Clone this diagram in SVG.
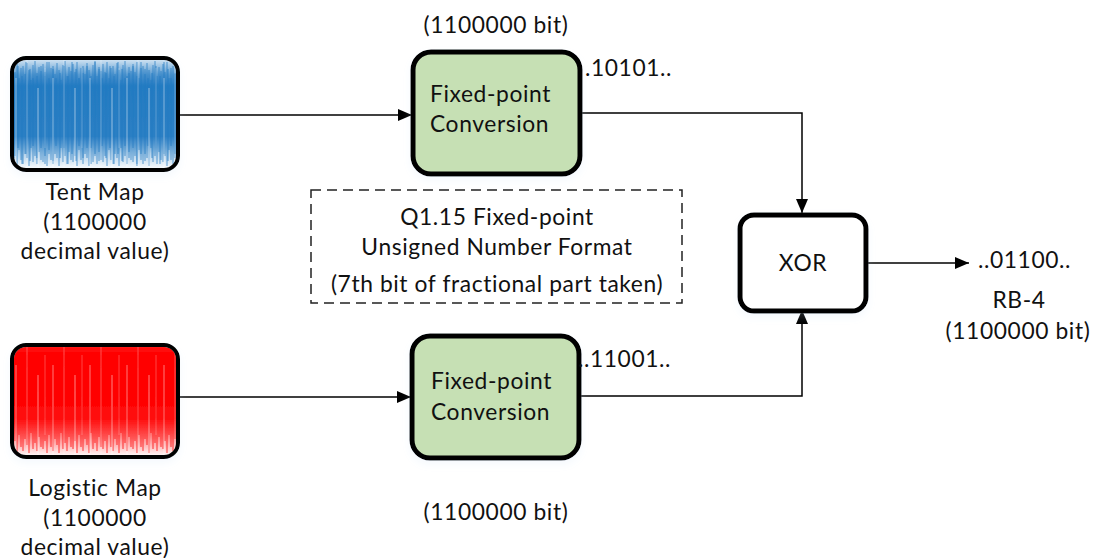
<svg xmlns="http://www.w3.org/2000/svg" width="1093" height="558" viewBox="0 0 1093 558">
<style>
text{font-family:Lato,"Open Sans","Liberation Sans",sans-serif;font-size:22.8px;fill:#111;letter-spacing:0.6px}
.c{text-anchor:middle}
.box{fill:#c6e0b4;stroke:#000;stroke-width:5}
.xor{fill:#fff;stroke:#000;stroke-width:5}
.frame{fill:none;stroke:#000;stroke-width:4}
.conn{fill:none;stroke:#000;stroke-width:1.5}
.dash{fill:none;stroke:#222;stroke-width:1.5;stroke-dasharray:10 6}
.bl line{stroke:#1f78c1;stroke-width:1.3;stroke-opacity:0.55}
.rd line{stroke:#ff0000;stroke-width:1.3;stroke-opacity:0.6}
.wh line{stroke:#fff;stroke-width:1}
</style>
<defs>
<marker id="ah" viewBox="0 0 14 12" refX="14" refY="6" markerWidth="14" markerHeight="12" markerUnits="userSpaceOnUse" orient="auto">
<path d="M0,0 L14,6 L0,12 Z" fill="#000"/>
</marker>
<filter id="sh" x="-20%" y="-20%" width="140%" height="150%">
<feGaussianBlur in="SourceAlpha" stdDeviation="4"/>
<feOffset dx="0" dy="4"/>
<feComponentTransfer><feFuncA type="linear" slope="0.18"/></feComponentTransfer>
<feColorMatrix type="matrix" values="0 0 0 0 0.55  0 0 0 0 0.7  0 0 0 0 0.9  0 0 0 1 0"/>
<feMerge><feMergeNode/><feMergeNode in="SourceGraphic"/></feMerge>
</filter>
<pattern id="pb" patternUnits="userSpaceOnUse" width="30" height="112" class="bl">
<line x1="1" y1="6" x2="1" y2="104"/><line x1="3" y1="14" x2="3" y2="98"/>
<line x1="5" y1="4" x2="5" y2="108"/><line x1="7" y1="20" x2="7" y2="92"/>
<line x1="9" y1="10" x2="9" y2="102"/><line x1="11" y1="8" x2="11" y2="106"/>
<line x1="13" y1="16" x2="13" y2="96"/><line x1="15" y1="5" x2="15" y2="100"/>
<line x1="17" y1="12" x2="17" y2="108"/><line x1="19" y1="22" x2="19" y2="90"/>
<line x1="21" y1="7" x2="21" y2="104"/><line x1="23" y1="3" x2="23" y2="98"/>
<line x1="25" y1="18" x2="25" y2="106"/><line x1="27" y1="9" x2="27" y2="94"/>
<line x1="29" y1="13" x2="29" y2="102"/>
</pattern>
<pattern id="pb2" patternUnits="userSpaceOnUse" width="23" height="112" class="bl">
<line x1="2" y1="15" x2="2" y2="100"/><line x1="6" y1="8" x2="6" y2="90"/>
<line x1="10" y1="18" x2="10" y2="106"/><line x1="14" y1="4" x2="14" y2="96"/>
<line x1="18" y1="11" x2="18" y2="103"/><line x1="21" y1="20" x2="21" y2="88"/>
</pattern>
<pattern id="pw" patternUnits="userSpaceOnUse" width="37" height="112" class="wh">
<line x1="4" y1="20" x2="4" y2="112" stroke-opacity="0.45"/>
<line x1="15" y1="0" x2="15" y2="112" stroke-opacity="0.3"/>
<line x1="26" y1="30" x2="26" y2="112" stroke-opacity="0.5"/>
<line x1="33" y1="10" x2="33" y2="90" stroke-opacity="0.25"/>
</pattern>
<pattern id="pr" patternUnits="userSpaceOnUse" width="30" height="112" class="rd">
<line x1="1" y1="3" x2="1" y2="104"/><line x1="3" y1="3" x2="3" y2="96"/>
<line x1="5" y1="3" x2="5" y2="108"/><line x1="7" y1="3" x2="7" y2="90"/>
<line x1="9" y1="3" x2="9" y2="102"/><line x1="11" y1="3" x2="11" y2="106"/>
<line x1="13" y1="3" x2="13" y2="94"/><line x1="15" y1="3" x2="15" y2="100"/>
<line x1="17" y1="3" x2="17" y2="108"/><line x1="19" y1="3" x2="19" y2="88"/>
<line x1="21" y1="3" x2="21" y2="104"/><line x1="23" y1="3" x2="23" y2="98"/>
<line x1="25" y1="3" x2="25" y2="106"/><line x1="27" y1="3" x2="27" y2="92"/>
<line x1="29" y1="3" x2="29" y2="102"/>
</pattern>
<linearGradient id="gb" x1="0" y1="0" x2="0" y2="1">
<stop offset="0" stop-color="#1f78c1" stop-opacity="0.15"/>
<stop offset="0.15" stop-color="#1f78c1" stop-opacity="0.75"/>
<stop offset="0.25" stop-color="#1a75bf" stop-opacity="0.95"/>
<stop offset="0.7" stop-color="#1a75bf" stop-opacity="0.9"/>
<stop offset="0.85" stop-color="#1f78c1" stop-opacity="0.35"/>
<stop offset="1" stop-color="#1f78c1" stop-opacity="0"/>
</linearGradient>
<linearGradient id="gr" x1="0" y1="0" x2="0" y2="1">
<stop offset="0" stop-color="#ff0000" stop-opacity="0.9"/>
<stop offset="0.1" stop-color="#ff0000" stop-opacity="1"/>
<stop offset="0.65" stop-color="#ff0000" stop-opacity="0.95"/>
<stop offset="0.85" stop-color="#ff0000" stop-opacity="0.4"/>
<stop offset="1" stop-color="#ff0000" stop-opacity="0"/>
</linearGradient>
<clipPath id="cl"><rect x="2" y="2" width="162" height="108" rx="12"/></clipPath>
</defs>

<g id="connectors">
<line class="conn" x1="178" y1="115" x2="412" y2="115" marker-end="url(#ah)"/>
<polyline class="conn" points="580,113 802,113 802,213" marker-end="url(#ah)"/>
<line class="conn" x1="178" y1="397" x2="411" y2="397" marker-end="url(#ah)"/>
<polyline class="conn" points="579,396 802,396 802,310" marker-end="url(#ah)"/>
<line class="conn" x1="866" y1="263" x2="969" y2="263" marker-end="url(#ah)"/>
</g>

<g id="tent-map">
<g transform="translate(12,58)" filter="url(#sh)">
<rect x="0" y="0" width="166" height="112" rx="14" fill="#fff"/>
<g clip-path="url(#cl)">
<rect x="0" y="0" width="166" height="112" fill="url(#gb)"/>
<rect x="0" y="0" width="166" height="112" fill="url(#pb)"/>
<rect x="0" y="0" width="166" height="112" fill="url(#pb2)"/>
<rect x="0" y="0" width="166" height="112" fill="url(#pw)"/>
</g>
<rect class="frame" x="0" y="0" width="166" height="112" rx="14"/>
</g>
<text class="c" x="95" y="200">Tent Map</text>
<text class="c" x="95" y="230">(1100000</text>
<text class="c" x="95" y="259">decimal value)</text>
</g>

<g id="logistic-map">
<g transform="translate(12,345)" filter="url(#sh)">
<rect x="0" y="0" width="166" height="112" rx="14" fill="#fff"/>
<g clip-path="url(#cl)">
<rect x="0" y="0" width="166" height="112" fill="url(#gr)"/>
<rect x="0" y="0" width="166" height="112" fill="url(#pr)"/>
<rect x="0" y="0" width="166" height="112" fill="url(#pw)"/>
</g>
<rect class="frame" x="0" y="0" width="166" height="112" rx="14"/>
</g>
<text class="c" x="95" y="496">Logistic Map</text>
<text class="c" x="95" y="526">(1100000</text>
<text class="c" x="95" y="555">decimal value)</text>
</g>

<g id="fixed-point-1">
<text class="c" x="496" y="33">(1100000 bit)</text>
<rect class="box" x="413" y="52" width="167" height="122" rx="18" filter="url(#sh)"/>
<text x="430" y="102">Fixed-point</text>
<text x="430" y="132">Conversion</text>
<text x="585" y="76">.10101..</text>
</g>

<g id="fixed-point-2">
<rect class="box" x="412" y="336" width="167" height="122" rx="18" filter="url(#sh)"/>
<text x="431" y="389">Fixed-point</text>
<text x="431" y="420">Conversion</text>
<text x="578" y="367">..11001..</text>
<text class="c" x="496" y="520">(1100000 bit)</text>
</g>

<g id="format-note">
<rect class="dash" x="311" y="190" width="371" height="113"/>
<text class="c" x="497" y="225">Q1.15 Fixed-point</text>
<text class="c" x="497" y="255">Unsigned Number Format</text>
<text class="c" x="497" y="292">(7th bit of fractional part taken)</text>
</g>

<g id="xor">
<rect class="xor" x="740" y="215" width="126" height="96" rx="14" filter="url(#sh)"/>
<text class="c" x="803" y="271">XOR</text>
</g>

<g id="output">
<text x="978" y="268">..01100..</text>
<text class="c" x="1019" y="308">RB-4</text>
<text class="c" x="1018" y="339">(1100000 bit)</text>
</g>
</svg>
